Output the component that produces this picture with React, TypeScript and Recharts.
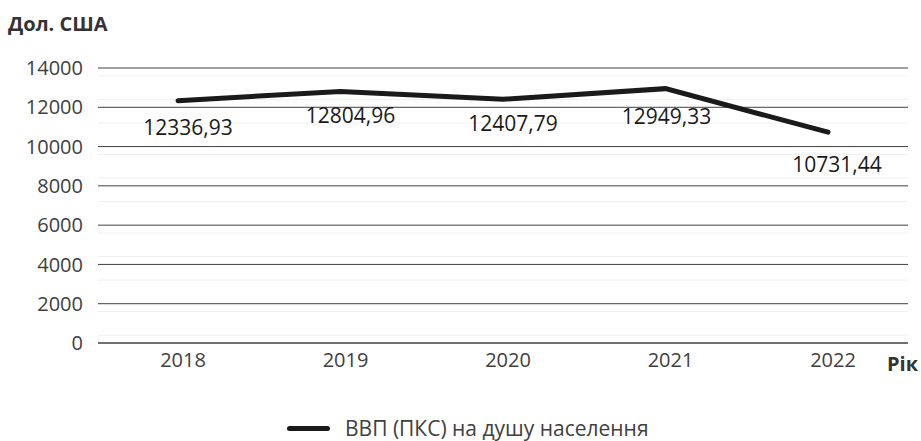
import { LineChart, Line, XAxis, YAxis, CartesianGrid, Legend, LabelList } from 'recharts';

const years = ['2018', '2019', '2020', '2021', '2022'];
const gdpPpp = [12336.93, 12804.96, 12407.79, 12949.33, 10731.44];
const yTicks = [0, 2000, 4000, 6000, 8000, 10000, 12000, 14000];
const minorTicks = [
    400, 800, 1200, 1600, 2400, 2800, 3200, 3600, 4400, 4800, 5200, 5600, 6400, 6800, 7200, 7600,
    8400, 8800, 9200, 9600, 10400, 10800, 11200, 11600, 12400, 12800, 13200, 13600,
];

const data = years.map((year, i) => ({ year, value: gdpPpp[i] }));

// label shifts relative to each point
const labelDx = [10, 10, 10, 1, 9];
const labelDy = [26, 24, 24, 27, 32];

const FONT = '"Open Sans", sans-serif';
const TEXT = '#404040';

const ValueLabel = (props: any) => {
    const { x, y, value, index } = props;
    return (
        <text
            x={x + labelDx[index]}
            y={y + labelDy[index]}
            textAnchor='middle'
            dominantBaseline='central'
            fontSize={21}
            fontFamily={FONT}
            fill='#1a1a1a'
        >
            {Number(value).toFixed(2).replace('.', ',')}
        </text>
    );
};

const LegendContent = () => (
    <div style={{ display: 'flex', alignItems: 'center', fontFamily: FONT, fontSize: 21, color: TEXT }}>
        <span
            style={{
                display: 'inline-block',
                width: 43,
                height: 5,
                borderRadius: 3,
                background: '#1a1a1a',
                marginRight: 15,
            }}
        />
        ВВП (ПКС) на душу населення
    </div>
);

const App = () => {
    return (
        <div style={{ position: 'absolute', left: 0, top: 0, width: 921, height: 441, background: '#fff' }}>
            <div
                style={{
                    position: 'absolute',
                    left: 8,
                    top: 10,
                    fontFamily: FONT,
                    fontWeight: 700,
                    fontSize: 20,
                    color: '#333',
                }}
            >
                Дол. США
            </div>
            <div
                style={{
                    position: 'absolute',
                    left: 887,
                    top: 350,
                    fontFamily: FONT,
                    fontWeight: 700,
                    fontSize: 20,
                    color: '#333',
                }}
            >
                Рік
            </div>
            <LineChart width={921} height={441} data={data} margin={{ top: 68, right: 13, left: 0, bottom: 40 }}>
                <CartesianGrid vertical={false} horizontalValues={minorTicks} stroke='#efefef' />
                <CartesianGrid vertical={false} horizontalValues={yTicks} stroke='#404040' />
                <XAxis
                    dataKey='year'
                    padding={{ left: 80, right: 80 }}
                    axisLine={{ stroke: '#404040' }}
                    tickLine={false}
                    tickSize={0}
                    tickMargin={10}
                    height={30}
                    tick={{ fontSize: 20, fontFamily: FONT, fill: TEXT, dx: 5 }}
                />
                <YAxis
                    domain={[0, 14000]}
                    ticks={yTicks}
                    axisLine={false}
                    tickLine={false}
                    tickSize={0}
                    tickMargin={15}
                    width={98}
                    tick={{ fontSize: 20, fontFamily: FONT, fill: TEXT }}
                />
                <Legend
                    verticalAlign='bottom'
                    wrapperStyle={{ left: 287, top: 414, width: 'auto' }}
                    content={<LegendContent />}
                />
                <Line
                    dataKey='value'
                    stroke='#1a1a1a'
                    strokeWidth={5}
                    strokeLinecap='round'
                    dot={false}
                    activeDot={false}
                    isAnimationActive={false}
                >
                    <LabelList dataKey='value' content={<ValueLabel />} />
                </Line>
            </LineChart>
        </div>
    );
};

export default App;
